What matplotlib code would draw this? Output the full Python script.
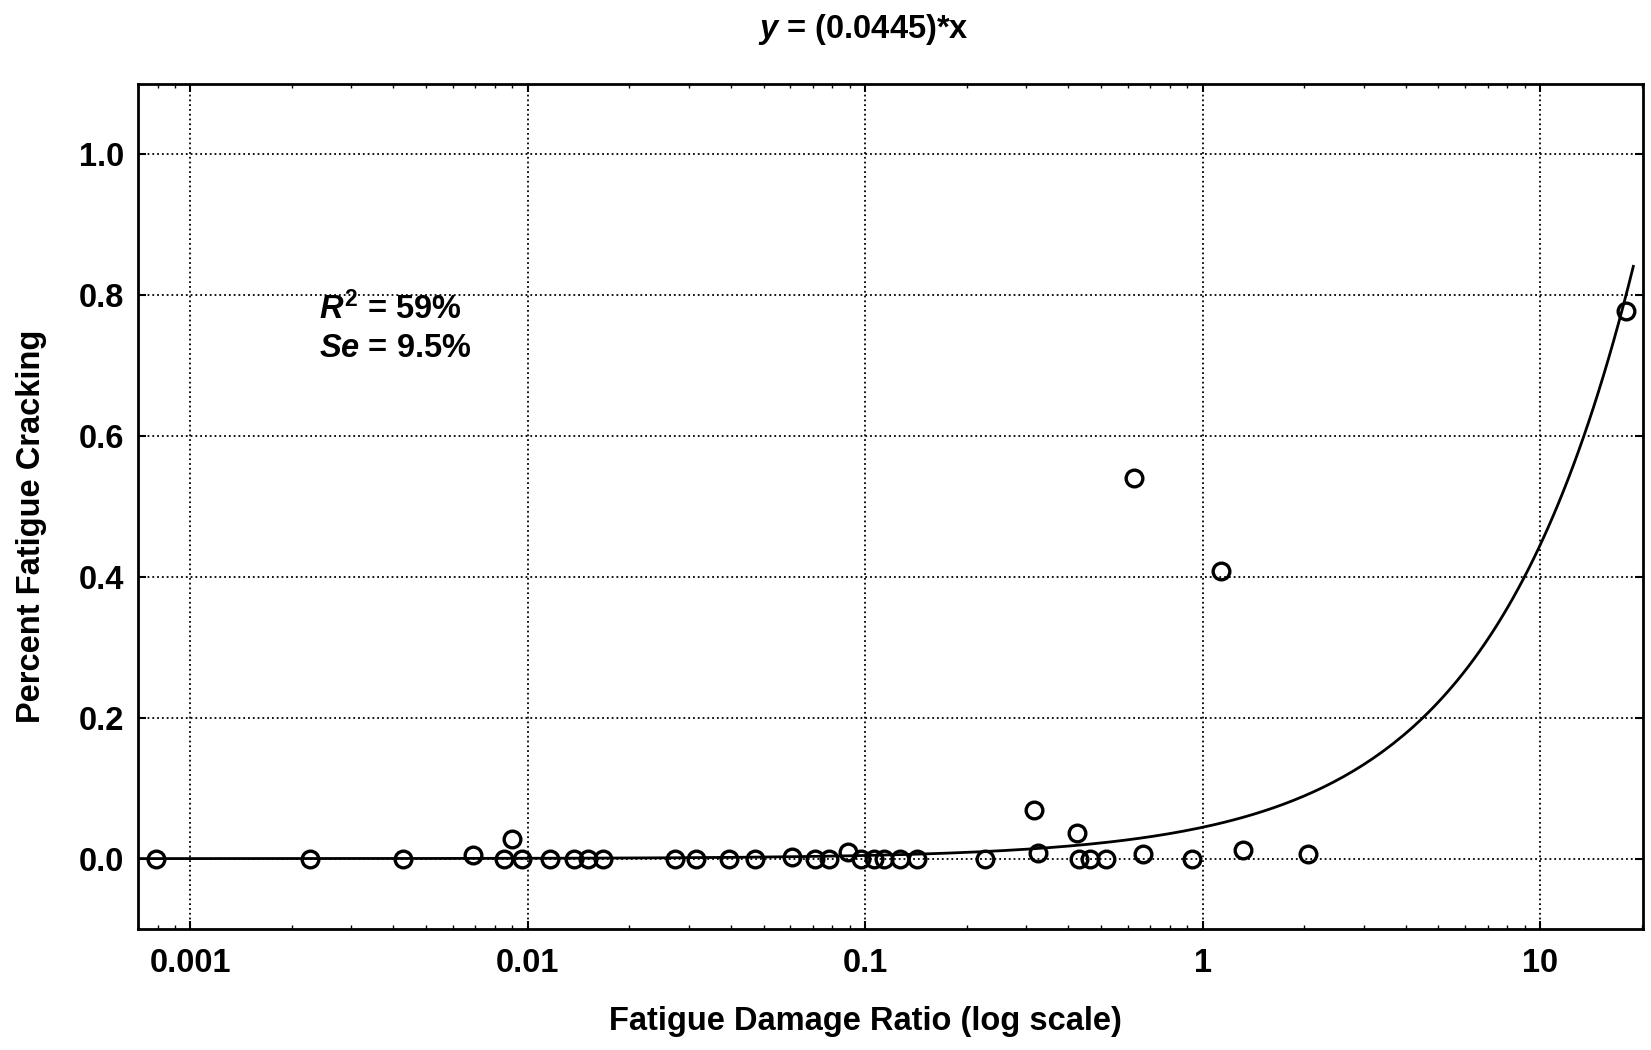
import numpy as np
import matplotlib
matplotlib.use("Agg")
import matplotlib.pyplot as plt
from matplotlib.ticker import LogLocator, FixedLocator, NullFormatter

plt.rcParams['font.family'] = ['Liberation Sans', 'DejaVu Sans']
plt.rcParams['font.weight'] = 'bold'
plt.rcParams['axes.labelweight'] = 'bold'
plt.rcParams['mathtext.fontset'] = 'custom'
plt.rcParams['mathtext.rm'] = 'Liberation Sans:bold'
plt.rcParams['mathtext.it'] = 'Liberation Sans:italic:bold'

# observed points (fatigue damage ratio, percent fatigue cracking)
damage_ratio = [0.00079, 0.00227, 0.00427, 0.0069, 0.0085, 0.0090, 0.0096, 0.01164,
                0.01374, 0.0151, 0.01668, 0.0274, 0.0316, 0.0395, 0.0472, 0.0607,
                0.0711, 0.078, 0.0889, 0.0969, 0.106, 0.114, 0.127, 0.1426, 0.226,
                0.316, 0.326, 0.425, 0.43, 0.464, 0.519, 0.626, 0.668, 0.929,
                1.135, 1.32, 2.05, 18.0]
cracking = [0.0, 0.0, 0.0, 0.0045, 0.0, 0.028, 0.0, 0.0,
            0.0, 0.0, 0.0, 0.0, 0.0, 0.0, 0.0, 0.003,
            0.0, 0.0, 0.009, 0.0, 0.0, 0.0, 0.0, 0.0, 0.0,
            0.069, 0.0075, 0.036, 0.0, 0.0, 0.0, 0.541, 0.006, 0.0,
            0.408, 0.012, 0.006, 0.778]

slope = 0.0445
x_ticks = [0.001, 0.01, 0.1, 1, 10]
x_labels = ['0.001', '0.01', '0.1', '1', '10']
y_ticks = [0.0, 0.2, 0.4, 0.6, 0.8, 1.0]

fig = plt.figure(figsize=(16.51, 10.50), dpi=100)
ax = fig.add_axes([0.0836, 0.1152, 0.9116, 0.8048])

xfit = np.logspace(np.log10(0.0007), np.log10(18.9), 300)
ax.plot(xfit, slope * xfit, color='black', lw=2.0, zorder=2)
ax.plot(damage_ratio, cracking, linestyle='none', marker='o', markersize=12,
        markerfacecolor='none', markeredgecolor='black', markeredgewidth=2.4, zorder=3)

ax.set_xscale('log')
ax.set_xlim(0.0007, 20.2)
ax.set_ylim(-0.1, 1.1)
ax.xaxis.set_major_locator(FixedLocator(x_ticks))
ax.set_xticklabels(x_labels)
ax.xaxis.set_minor_locator(LogLocator(base=10, subs=np.arange(2, 10)))
ax.xaxis.set_minor_formatter(NullFormatter())
ax.set_yticks(y_ticks)
ax.set_yticklabels(['%.1f' % v for v in y_ticks])

ax.grid(True, which='major', linestyle=':', color='black', linewidth=1.3)
ax.tick_params(which='major', direction='in', length=6, width=1.5, labelsize=23.5,
               top=True, right=True)
ax.tick_params(axis='x', which='major', pad=14)
ax.tick_params(axis='y', which='major', pad=10)
ax.tick_params(which='minor', direction='in', length=3, width=1.0, top=True)
for s in ax.spines.values():
    s.set_linewidth(2.0)

ax.set_xlabel('Fatigue Damage Ratio (log scale)', fontsize=23.5)
ax.xaxis.set_label_coords(0.4834, -0.0906)
ax.set_ylabel('Percent Fatigue Cracking', fontsize=23.5)
ax.yaxis.set_label_coords(-0.0604, 0.477)
fig.text(0.523, 0.972, r'$y$ = (0.0445)*x', fontsize=23.5, ha='center', va='center')

ax.text(0.0024, 0.78, r'$R^2$ = 59%', fontsize=23.5, va='center')
ax.text(0.0024, 0.725, r'$Se$ = 9.5%', fontsize=23.5, va='center')

fig.savefig('out.png', dpi=100)
